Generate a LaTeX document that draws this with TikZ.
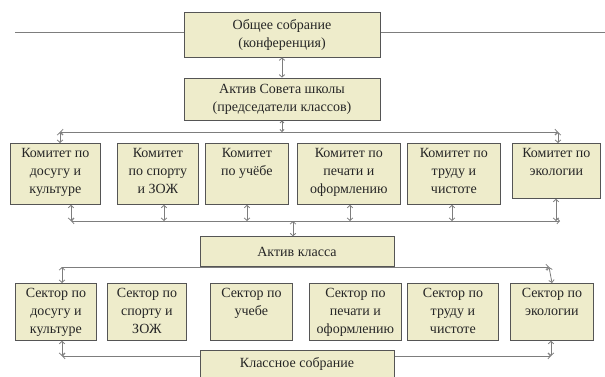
\documentclass[tikz,border=0pt]{standalone}
\usepackage{fontspec}
\setmainfont{Liberation Serif}
\usetikzlibrary{arrows.meta}
\definecolor{boxfill}{RGB}{238,236,203}
\definecolor{boxline}{RGB}{85,85,85}
\definecolor{linegray}{RGB}{125,125,125}
\tikzset{
  box/.style={draw=boxline, fill=boxfill, line width=0.8pt, inner sep=0pt},
  txt/.style={align=center, font=\fontsize{14}{18}\selectfont, inner sep=0pt, text=black!85},
  conn/.style={draw=linegray, line width=0.8pt},
  tipd/.tip={Straight Barb[length=2.5pt,width=5.5pt]},
  dbl/.style={conn, tipd-tipd},
  bus/.style={conn, tipd-tipd},
}
\newcommand\mybx[6]{%
  \node[box, minimum width={#4-#2}, minimum height={#5-#3}, anchor=north west] (#1) at (#2,#3) {};
  \node[txt, anchor=north] (#1t) at ([yshift=-5pt]#1.north) {#6};
}
\begin{document}
\begin{tikzpicture}[x=1pt,y=-1pt]
\useasboundingbox (0,0) rectangle (605,376);
\clip (0,0) rectangle (605,376);

% top line and top boxes
\coordinate (tl) at (15,32);
\coordinate (tr) at (605,32);
\draw[conn] (tl) -- (tr);
\node[box, txt, minimum width=196, minimum height=45, draw=boxline, fill=boxfill] (bA) at (282,34.5) {Общее собрание\\(конференция)};
\node[box, txt, minimum width=196, minimum height=42, draw=boxline, fill=boxfill] (bB) at (282,99) {Актив Совета школы\\(председатели классов)};
\draw[dbl] (bA.south) -- (bB.north);

% bus 1
\coordinate (L1) at (60,132);
\coordinate (R1) at (558,132);
\coordinate (M1) at (282,132);
\draw[bus] (L1) -- (R1);
\draw[conn, {Straight Barb[length=2pt,width=4pt]}-{Straight Barb[length=2pt,width=4pt]}] (M1) -- (bB.south);

% row 1
\mybx{c1}{10}{143}{100}{204}{Комитет по\\досугу и\\культуре}
\mybx{c2}{117}{143}{198}{204}{Комитет\\по спорту\\и ЗОЖ}
\mybx{c3}{205}{143}{288}{204}{Комитет\\по учёбе}
\mybx{c4}{297}{143}{400}{204}{Комитет по\\печати и\\оформлению}
\mybx{c5}{407}{143}{500}{204}{Комитет по\\труду и\\чистоте}
\mybx{c6}{512}{143}{600}{198}{Комитет по\\экологии}
\draw[dbl] (L1) -- (L1 |- c1.north);
\draw[dbl] (R1) -- (R1 |- c6.north);

% bus 2
\coordinate (L2) at (71,221);
\coordinate (R2) at (560,221);
\draw[bus] (L2) -- (R2);
\foreach \n/\x in {c1/71, c2/164, c3/247, c4/350, c5/452, c6/556}{
  \coordinate (a\n) at (\x,221);
  \draw[dbl] (a\n |- \n.south) -- (a\n);
}
\coordinate (M2) at (293,221);

% aktiv klassa
\coordinate (L3) at (62,267);
\coordinate (R3) at (549,267);
\draw[conn, -tipd] (L3) -- (R3);
\node[box, txt, minimum width=194, minimum height=29.5, draw=boxline, fill=boxfill] (aK) at (297,251.5) {Актив класса};
\draw[dbl] (M2) -- (M2 |- aK.north);

% row 2
\mybx{s1}{15}{283}{96}{340}{Сектор по\\досугу и\\культуре}
\mybx{s2}{107}{283}{186}{340}{Сектор по\\спорту и\\ЗОЖ}
\mybx{s3}{210}{283}{292}{340}{Сектор по\\учебе}
\mybx{s4}{309}{283}{401}{340}{Сектор по\\печати и\\оформлению}
\mybx{s5}{407}{283}{498}{340}{Сектор по\\труду и\\чистоте}
\mybx{s6}{510}{283}{593}{340}{Сектор по\\экологии}
\draw[dbl] (L3) -- (L3 |- s1.north);
\draw[dbl] (R3) -- ([xshift=3pt]R3 |- s6.north);

% bus 4 and klassnoe sobranie
\coordinate (L4) at (62,356);
\coordinate (R4) at (551,356);
\draw[bus] (L4) -- (R4);
\draw[dbl] (L4 |- s1.south) -- (L4);
\draw[dbl] (R4 |- s6.south) -- (R4);
\node[box, minimum width=194, minimum height=40, anchor=north west] (kS) at (200,350) {};
\node[txt] (kSt) at (297,364) {Классное собрание};
\end{tikzpicture}
\end{document}
